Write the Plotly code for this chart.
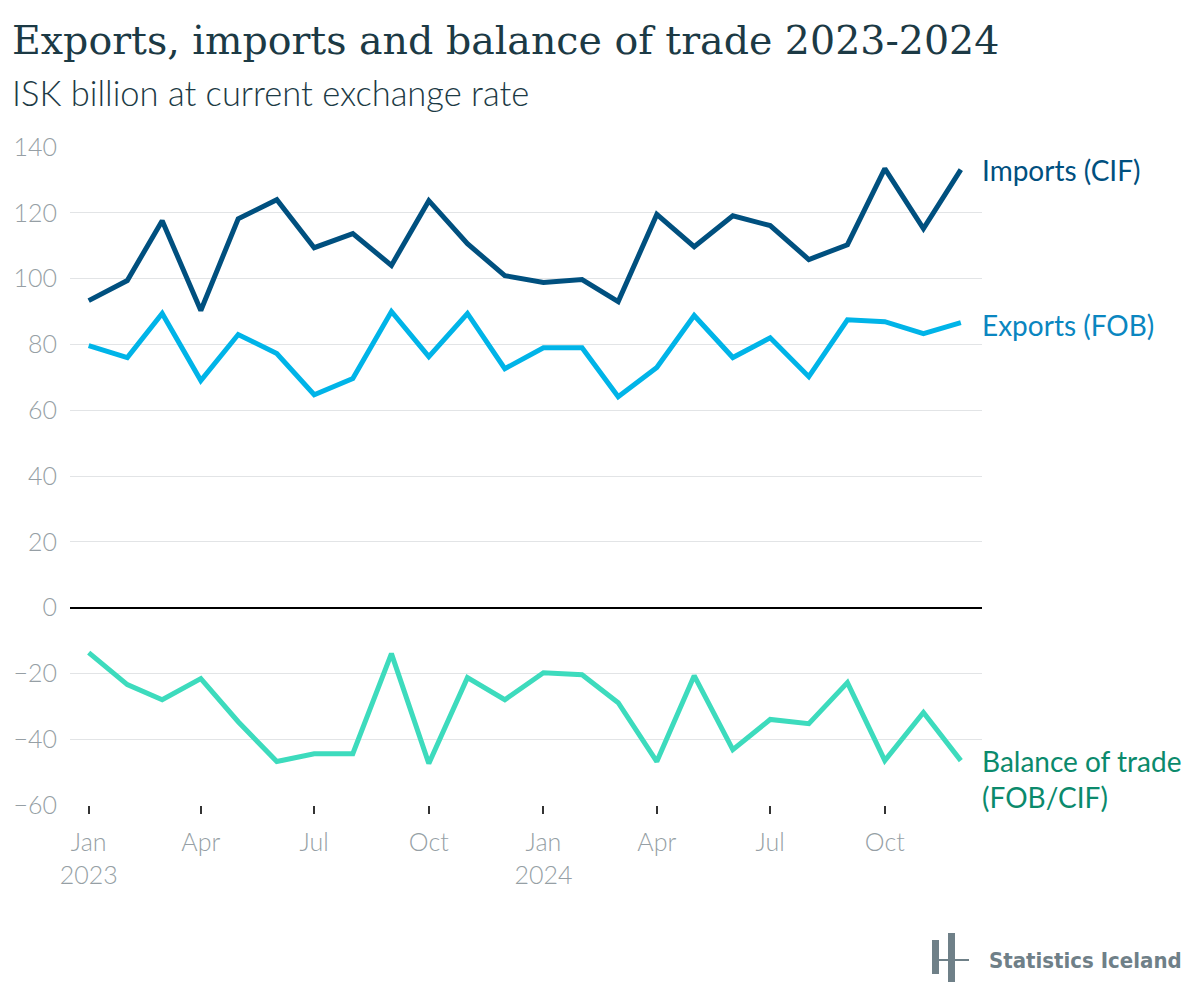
import plotly.graph_objects as go

# Monthly data, ISK billion
months = ["2023-01-01", "2023-02-01", "2023-03-01", "2023-04-01", "2023-05-01", "2023-06-01",
          "2023-07-01", "2023-08-01", "2023-09-01", "2023-10-01", "2023-11-01", "2023-12-01",
          "2024-01-01", "2024-02-01", "2024-03-01", "2024-04-01", "2024-05-01", "2024-06-01",
          "2024-07-01", "2024-08-01", "2024-09-01", "2024-10-01", "2024-11-01", "2024-12-01"]

imports_cif = [93.3, 99.4, 117.6, 90.3, 118.2, 124.0, 109.4, 113.7, 104.0, 123.7, 110.6, 100.9,
               98.8, 99.7, 93.0, 119.5, 109.7, 119.1, 116.1, 105.8, 110.3, 133.4, 115.2, 133.1]

exports_fob = [79.6, 76.0, 89.4, 69.0, 83.0, 77.2, 64.7, 69.6, 90.0, 76.3, 89.4, 72.6,
               79.0, 79.0, 64.1, 73.0, 88.8, 76.0, 82.0, 70.2, 87.5, 86.9, 83.3, 86.6]

balance = [-13.7, -23.4, -28.0, -21.6, -34.7, -46.8, -44.4, -44.4, -14.0, -47.4, -21.3, -28.0,
           -19.8, -20.4, -28.9, -46.8, -20.7, -43.2, -34.0, -35.3, -22.8, -46.5, -31.9, -46.5]

tick_dates = ["2023-01-01", "2023-04-01", "2023-07-01", "2023-10-01",
              "2024-01-01", "2024-04-01", "2024-07-01", "2024-10-01"]
tick_text = ["Jan<br>2023", "Apr", "Jul", "Oct", "Jan<br>2024", "Apr", "Jul", "Oct"]

series = [
    ("Imports (CIF)", imports_cif, "#00507f", "#00507f", 0),
    ("Exports (FOB)", exports_fob, "#00b4e8", "#0a86c0", -2),
    ("Balance of trade<br>(FOB/CIF)", balance, "#3ddbbd", "#0b8a6c", -18),
]

fig = go.Figure()
for name, vals, color, _, _ in series:
    fig.add_trace(go.Scatter(x=months, y=vals, mode="lines", name=name,
                             line=dict(color=color, width=5), showlegend=False))

# the page puts the figure 8px in from the top-left corner
OFF = 8
W, H = 1200 - OFF, 1007 - OFF
# plot area, in screenshot pixels
L, R, T, B = 70, 982, 147, 805


def px(x):
    return (x - L) / (R - L)


def py(y):
    return (B - y) / (B - T)


annotations = [
    dict(x=px(10), y=py(40), xref="paper", yref="paper",
         text="Exports, imports and balance of trade 2023-2024",
         showarrow=False, xanchor="left", yanchor="middle",
         font=dict(family="DejaVu Serif", size=39.5, color="#1c3a45")),
    dict(x=px(10), y=py(93), xref="paper", yref="paper",
         text="ISK billion at current exchange rate",
         showarrow=False, xanchor="left", yanchor="middle",
         font=dict(family="Lato", size=34.5, color="#1c3a45", weight=300)),
]
for name, vals, _, tcolor, shift in series:
    annotations.append(dict(x=1, xref="paper", y=vals[-1], yref="y", text=name,
                            showarrow=False, xanchor="left", yanchor="middle",
                            xshift=-2, yshift=shift, align="left",
                            font=dict(family="Lato", size=28, color=tcolor)))

annotations.append(dict(x=px(987), y=py(960), xref="paper", yref="paper",
                        text="Statistics Iceland", showarrow=False,
                        xanchor="left", yanchor="middle",
                        font=dict(family="DejaVu Sans Condensed", size=22,
                                  color="#6f8088", weight="bold")))

logo_color = "#6f8088"
shapes = [
    dict(type="rect", xref="paper", yref="paper", x0=px(932), x1=px(939),
         y0=py(974), y1=py(940), fillcolor=logo_color, line=dict(width=0)),
    dict(type="rect", xref="paper", yref="paper", x0=px(948), x1=px(955),
         y0=py(982), y1=py(933), fillcolor=logo_color, line=dict(width=0)),
    dict(type="rect", xref="paper", yref="paper", x0=px(932), x1=px(969),
         y0=py(961), y1=py(959), fillcolor=logo_color, line=dict(width=0)),
]

fig.update_layout(
    width=W, height=H,
    margin=dict(l=L - OFF, r=1200 - R, t=T - OFF, b=1007 - B),
    paper_bgcolor="white", plot_bgcolor="white",
    annotations=annotations,
    shapes=shapes,
)

fig.update_xaxes(
    type="date", range=["2022-12-17", "2024-12-18"],
    tickvals=tick_dates, ticktext=tick_text,
    ticks="outside", ticklen=8, tickwidth=2, tickcolor="#333333",
    showgrid=False, showline=False, zeroline=False, ticklabelstandoff=7,
    automargin=False,
    tickfont=dict(family="Lato", size=25, color="#969fa5", weight=300),
)

fig.update_yaxes(
    range=[-60, 140], tickvals=[-60, -40, -20, 0, 20, 40, 60, 80, 100, 120, 140],
    ticktext=["−60", "−40", "−20", "0", "20", "40", "60", "80", "100", "120", "140"],
    showgrid=True, gridcolor="#e2e4e6", gridwidth=1,
    zeroline=True, zerolinecolor="#000000", zerolinewidth=1.5,
    showline=False, ticks="", ticklabelstandoff=12, automargin=False,
    tickfont=dict(family="Lato", size=25, color="#969fa5", weight=300),
)

fig.write_html("out.html")
